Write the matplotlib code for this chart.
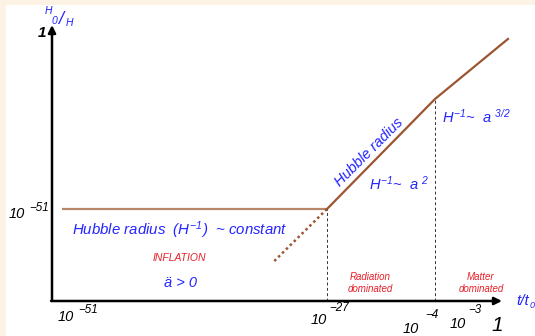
import numpy as np
import matplotlib
matplotlib.use("Agg")
import matplotlib.pyplot as plt
from matplotlib.patches import Rectangle

plt.rcParams['font.family'] = ['Liberation Sans', 'DejaVu Sans']
plt.rcParams['font.style'] = 'italic'
plt.rcParams['mathtext.fontset'] = 'custom'
plt.rcParams['mathtext.it'] = 'Liberation Sans:italic'
plt.rcParams['mathtext.rm'] = 'Liberation Sans:italic'
plt.rcParams['mathtext.default'] = 'it'

# --- data (log10 values, schematic) ---
log_t_curve = [-50.1, -27, -4, 0]          # log10(t/t0)
log_h_curve = [-51, -51, -19.3, -2.0]      # log10(H0/H)
log_t_dotted = [-31.6, -27]
log_h_dotted = [-66.0, -51]
era_bounds = [-27, -4]
x_tick_exps = [-51, -27, -4, -3]
y_tick_exp = -51

# --- schematic (piecewise) time axis ---
knot_v = np.array([-60.0, -51, -27, -4, 0, 5])
knot_p = np.array([52 - 9 * 275 / 24, 52, 327, 435, 508, 508 + 5 * 73 / 4])

def fwd(v):
    return np.interp(v, knot_v, knot_p)

def inv(p):
    return np.interp(p, knot_p, knot_v)

W, H = 535, 336
fig = plt.figure(figsize=(W / 100, H / 100), dpi=100, facecolor='#fdf3e4')
fig.patches.append(Rectangle((6 / W, 0), 1, (H - 5) / H, transform=fig.transFigure,
                             facecolor='white', edgecolor='none', zorder=0))
ax = fig.add_axes([0, 0, 1, 1])
ax.set_zorder(1)
ax.patch.set_alpha(0)
ax.set_xscale('function', functions=(fwd, inv))
ax.set_xlim(inv(0), inv(W))
k = 177 / 51
ax.set_ylim(-(H - 32) / k, 32 / k)
ax.set_axis_off()

blue = '#2424ff'
red = '#e8202a'
brown = '#9c5530'

y_axis = -(301 - 32) / k
x0 = -51

# axes with arrows
ax.annotate('', xy=(x0, 2.0), xytext=(x0, y_axis),
            arrowprops=dict(arrowstyle='-|>', lw=1.8, color='black',
                            mutation_scale=11, shrinkA=0, shrinkB=0))
ax.annotate('', xy=(-0.33, y_axis), xytext=(x0 - 0.08, y_axis),
            arrowprops=dict(arrowstyle='-|>', lw=1.8, color='black',
                            mutation_scale=11, shrinkA=0, shrinkB=0))

# Hubble radius curve
ax.plot(log_t_curve[:2], log_h_curve[:2], color='#b8876a', lw=1.6, solid_capstyle='butt')
ax.plot(log_t_curve[1:], log_h_curve[1:], color=brown, lw=1.6)
ax.plot(log_t_dotted, log_h_dotted, color=brown, lw=1.8, ls=(0, (1, 1.2)))

# era boundaries
for t in era_bounds:
    h = np.interp(t, log_t_curve, log_h_curve)
    ax.plot([t, t], [y_axis, h], color='#333333', lw=0.7, ls=(0, (3, 2.5)))

# x tick labels
def p10(xy, exp, off10, offexp, fs=10.5):
    ax.annotate('10', xy=xy, xytext=off10, textcoords='offset pixels',
                ha='center', va='center', fontsize=fs, color='black')
    ax.annotate('\u2212' + str(abs(exp)), xy=xy, xytext=offexp, textcoords='offset pixels',
                ha='center', va='center', fontsize=fs * 0.8, color='black')

xoffs = {-51: ((14, -16), (36, -9)), -27: ((-8, -19), (12, -7)),
         -4: ((-24, -28), (-3, -14)), -3: ((4, -23), (22, -9))}
for e in x_tick_exps:
    o10, oe = xoffs[e]
    p10((e, y_axis), e, o10, oe)
ax.annotate('1', xy=(0, y_axis), xytext=(-11, -24), textcoords='offset pixels',
            ha='center', va='center', fontsize=15, color='black')

# y tick labels
p10((x0, y_tick_exp), y_tick_exp, (-35, -5), (-13, 1))
ax.annotate('1', xy=(x0, 0), xytext=(-10, -1), textcoords='offset pixels',
            ha='center', va='center', fontsize=11, color='black', fontweight='bold')

def ptext(x, y, s, **kw):
    ax.annotate(s, xy=(x, H - y), xycoords='figure pixels', **kw)

# axis titles
ptext(48, 11, 'H', ha='center', va='center', fontsize=7.5, color=blue)
ptext(54, 21, '0', ha='center', va='center', fontsize=7.5, color=blue)
ptext(61, 19, '/', ha='center', va='center', fontsize=13, color=blue)
ptext(69, 23, 'H', ha='center', va='center', fontsize=7.5, color=blue)
ptext(516, 301, 't/t', ha='left', va='center', fontsize=11, color=blue)
ptext(530, 305, '0', ha='left', va='center', fontsize=6.5, color=blue)

# annotations
ptext(72, 230, 'Hubble radius  $(H^{-1})$  ~ constant', ha='left', va='center',
      fontsize=10.8, color=blue)
ptext(179, 258, 'INFLATION', ha='center', va='center', fontsize=7.5, color=red)
ptext(180, 283, '\u00e4 > 0', ha='center', va='center', fontsize=10.5, color=blue)
ptext(370, 283, 'Radiation\ndominated', ha='center', va='center', fontsize=7,
      color=red, linespacing=1.2)
ptext(481, 283, 'Matter\ndominated', ha='center', va='center', fontsize=7,
      color=red, linespacing=1.2)
ptext(369, 152, 'Hubble radius', ha='center', va='center', fontsize=10.5,
      color=blue, rotation=45, rotation_mode='anchor')
ptext(399, 184, '$H^{-1}$~  a $^{2}$', ha='center', va='center', fontsize=10.5, color=blue)
ptext(476, 117, '$H^{-1}$~  a $^{3/2}$', ha='center', va='center', fontsize=10.5, color=blue)

fig.savefig('out.png', dpi=100, facecolor=fig.get_facecolor())
